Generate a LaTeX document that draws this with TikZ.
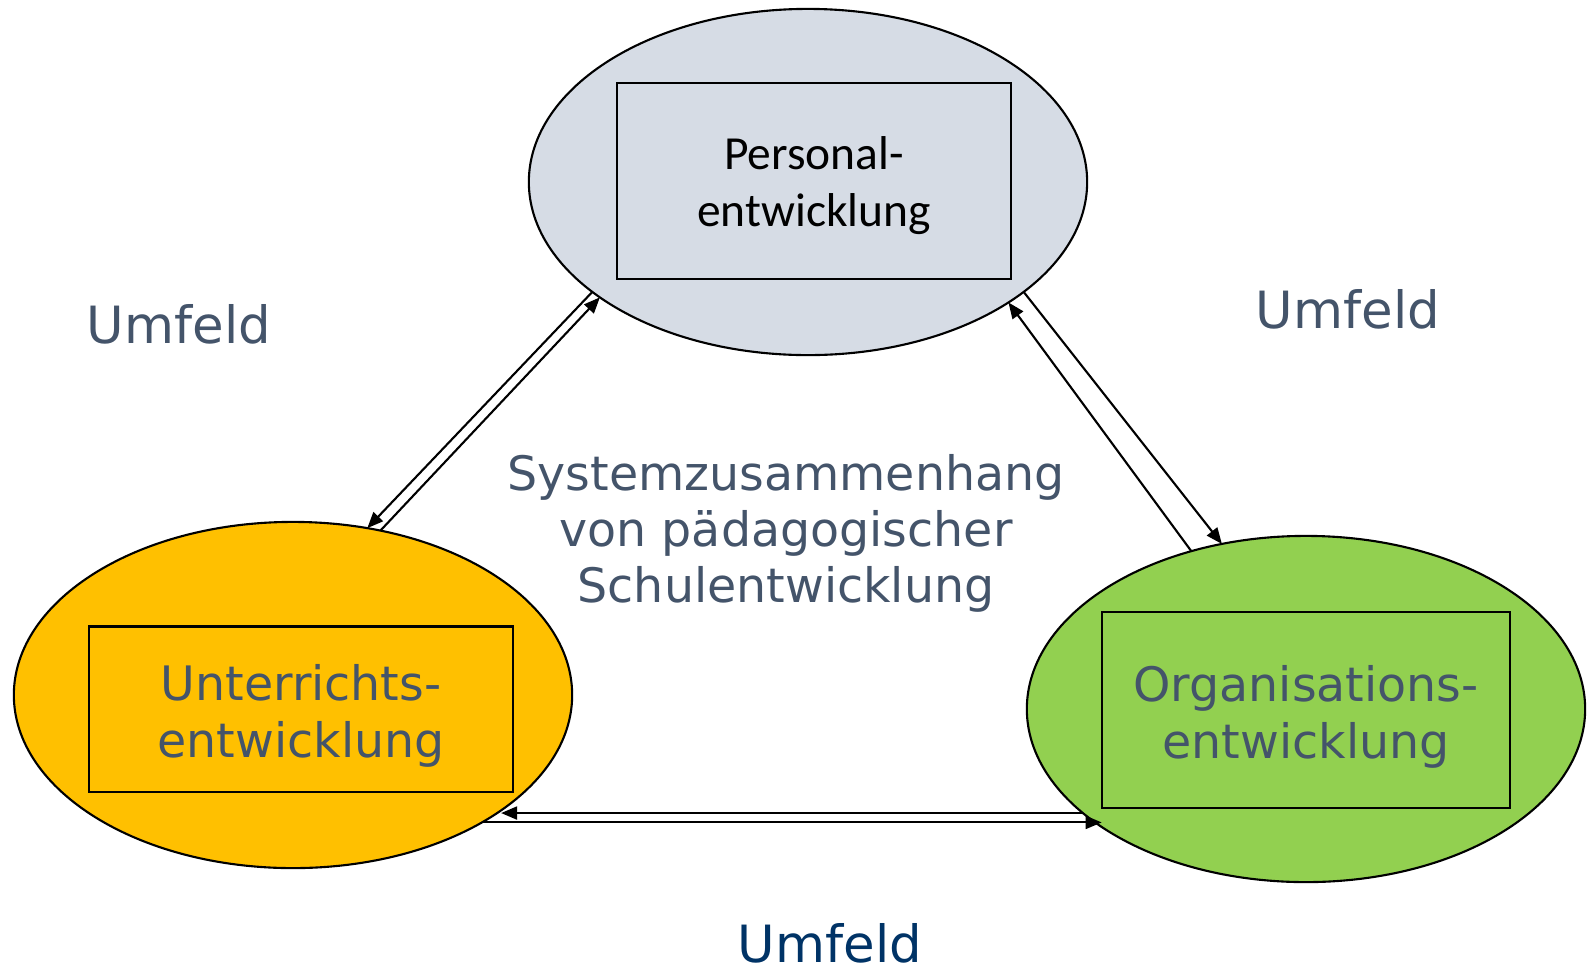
\documentclass[tikz,border=0pt]{standalone}
\usepackage{fontspec}
\setmainfont{DejaVu Sans}
\newfontfamily\calibri{Carlito}
\usetikzlibrary{shapes.geometric,arrows.meta}
\definecolor{textgray}{HTML}{44546A}
\definecolor{navy}{HTML}{003366}
\definecolor{pgrey}{HTML}{D6DCE5}
\definecolor{uorange}{HTML}{FFC000}
\definecolor{ogreen}{HTML}{92D050}
\tikzstyle{arrow} = [-{Triangle[length=1.6mm,width=1.3mm]},line width=0.6pt]
\tikzstyle{area} = [draw,ellipse,line width=0.6pt,minimum width=5.58cm,minimum height=3.46cm,inner sep=0pt,outer sep=0pt]
\tikzstyle{box} = [draw,rectangle,line width=0.6pt,inner sep=0pt]
\tikzstyle{label} = [align=center,font=\fontsize{13.5}{16.2}\selectfont,text=textgray]
\tikzstyle{umfeld} = [font=\fontsize{14.6}{17}\selectfont,text=textgray]

\begin{document}
\begin{tikzpicture}[x=0.01cm,y=-0.01cm]
        \useasboundingbox (0,0) rectangle (1587,972);
        \node[area, fill=pgrey] at (808,182) (p) {};
        \node[area, fill=uorange] at (293,695) (u) {};
        \node[area, fill=ogreen] at (1306,709) (o) {};

        \node[box, fill=pgrey, minimum width=3.93cm, minimum height=1.96cm] at (814,181) (pb) {};
        \node[box, minimum width=4.24cm, minimum height=1.65cm] at (301,709) (ub) {};
        \node[box, minimum width=4.08cm, minimum height=1.96cm] at (1306,710) (ob) {};
        \node[label, text=black, font=\calibri\fontsize{13.5}{16.2}\selectfont] at (814,186) (pt) {Personal-\\entwicklung};
        \node[label] at (301,716) (ut) {Unterrichts-\\entwicklung};
        \node[label] at (1306,717) (ot) {Organisations-\\entwicklung};

        \node[umfeld] at (179,324) (ul) {Umfeld};
        \node[umfeld] at (1348,309) (ur) {Umfeld};
        \node[umfeld, text=navy] at (830,943) (ud) {Umfeld};
        \node[label, font=\fontsize{13.5}{15.9}\selectfont] at (786,533) (sys) {Systemzusammenhang\\von pädagogischer\\Schulentwicklung};

        \draw[arrow] (p.207) -- (u.66);
        \draw[arrow] (u.62) -- (p.209);
        \draw[arrow] (o.126) -- (p.329);
        \draw[arrow] (p.333) -- (o.117);
        \draw[arrow] (o.205) -- (o.205 -| u.331);
        \draw[arrow] (u.326) -- (u.326 -| o.210);
\end{tikzpicture}
\end{document}
